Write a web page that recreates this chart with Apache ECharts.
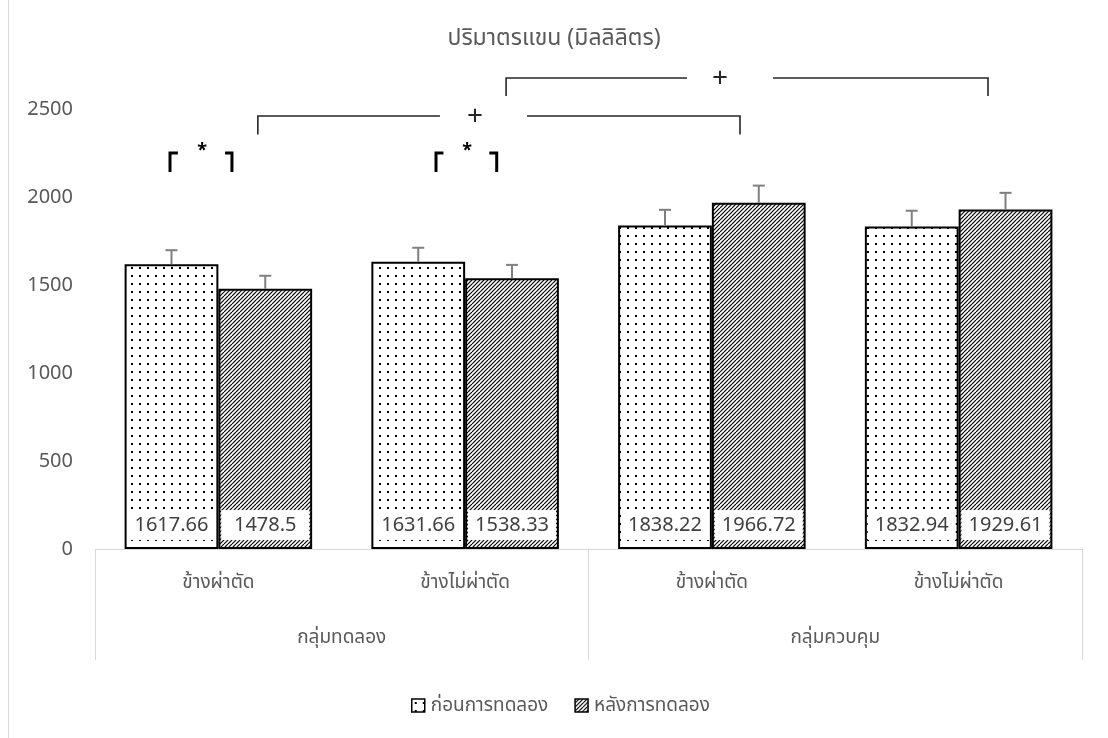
<!DOCTYPE html>
<html>
<head>
<meta charset="utf-8">
<script src="https://cdn.jsdelivr.net/npm/echarts@6/dist/echarts.min.js"></script>
<style>
  html, body { margin: 0; padding: 0; background: #fff; }
  #chart { width: 1108px; height: 738px; }
</style>
</head>
<body>
<div id="chart"></div>
<script>
// Arm volume (ml) before / after, by side, for the two study groups
const sideLabels = ['ข้างผ่าตัด', 'ข้างไม่ผ่าตัด', 'ข้างผ่าตัด', 'ข้างไม่ผ่าตัด'];
const groupLabels = ['กลุ่มทดลอง', 'กลุ่มควบคุม'];
const seriesNames = ['ก่อนการทดลอง', 'หลังการทดลอง'];
const beforeValues = [1617.66, 1631.66, 1838.22, 1832.94];
const afterValues = [1478.5, 1538.33, 1966.72, 1929.61];
const beforeErrors = [80, 80, 89, 89];
const afterErrors = [74, 76, 98, 94];
const yTicks = { min: 0, max: 2500, interval: 500 };

const FONT = '"Noto Sans", "Noto Sans Thai", Lato, sans-serif';
const TEXT = '#595959';

// fill patterns: dotted (before) and dense forward hatch (after)
function dotPattern() {
  const c = document.createElement('canvas');
  c.width = 8; c.height = 8;
  const ctx = c.getContext('2d');
  ctx.fillStyle = '#fff'; ctx.fillRect(0, 0, 8, 8);
  ctx.fillStyle = '#000'; ctx.fillRect(3, 3, 2, 2);
  return c;
}
function hatchPattern() {
  const c = document.createElement('canvas');
  c.width = 8; c.height = 8;
  const ctx = c.getContext('2d');
  ctx.fillStyle = '#fff'; ctx.fillRect(0, 0, 8, 8);
  ctx.strokeStyle = '#000'; ctx.lineWidth = 1.15;
  for (let k = -8; k <= 16; k += 4) {
    ctx.beginPath(); ctx.moveTo(k, 8); ctx.lineTo(k + 8, 0); ctx.stroke();
  }
  return c;
}
const dotFill = { image: dotPattern(), repeat: 'repeat' };
const hatchFill = { image: hatchPattern(), repeat: 'repeat' };

const BAR_FRAC = 0.38; // each bar's share of a category band
const offsets = [-BAR_FRAC / 2, BAR_FRAC / 2];

function errorSeries(values, errors, off) {
  return {
    type: 'custom',
    xAxisIndex: 0,
    z: 5,
    silent: true,
    data: values.map((v, i) => [i, v, errors[i]]),
    encode: { x: 0, y: 1 },
    renderItem(params, api) {
      const i = api.value(0), v = api.value(1), e = api.value(2);
      const base = api.coord([i, v]);
      const top = api.coord([i, v + e]);
      const bw = api.size([1, 0])[0];
      const x = base[0] + off * bw;
      const st = { stroke: '#7f7f7f', lineWidth: 2 };
      return {
        type: 'group',
        children: [
          { type: 'line', shape: { x1: x, y1: base[1], x2: x, y2: top[1] }, style: st },
          { type: 'line', shape: { x1: x - 6, y1: top[1], x2: x + 6, y2: top[1] }, style: st }
        ]
      };
    }
  };
}

const valueLabel = {
  show: true,
  position: 'insideBottom',
  distance: 9,
  backgroundColor: '#fff',
  padding: [5, 0],
  width: 88,
  align: 'center',
  fontSize: 20,
  fontFamily: FONT,
  color: '#404040'
};

const chart = echarts.init(document.getElementById('chart'));
chart.setOption({
  animation: false,
  backgroundColor: '#fff',
  title: {
    text: 'ปริมาตรแขน (มิลลิลิตร)',
    left: 'center',
    top: 22,
    textStyle: { fontSize: 23, fontWeight: 'normal', color: TEXT, fontFamily: FONT }
  },
  legend: {
    left: 406,
    top: 691,
    itemWidth: 13,
    itemHeight: 13,
    itemGap: 26,
    icon: 'rect',
    itemStyle: { borderColor: '#000', borderWidth: 1.5 },
    textStyle: { fontSize: 19, color: TEXT, fontFamily: FONT, padding: [0, 0, 0, 1] },
    data: seriesNames
  },
  grid: { left: 95, right: 26, top: 109, bottom: 189 },
  xAxis: [
    {
      type: 'category',
      data: sideLabels,
      axisLine: { lineStyle: { color: '#d9d9d9', width: 1 } },
      axisTick: { show: false },
      axisLabel: { margin: 24, fontSize: 19, color: TEXT, fontFamily: FONT }
    },
    {
      type: 'category',
      position: 'bottom',
      data: groupLabels,
      axisLine: { show: false },
      axisTick: { show: true, length: 111, lineStyle: { color: '#d9d9d9', width: 1 } },
      axisLabel: { margin: 79, fontSize: 19, color: TEXT, fontFamily: FONT }
    }
  ],
  yAxis: {
    type: 'value',
    min: yTicks.min,
    max: yTicks.max,
    interval: yTicks.interval,
    axisLine: { show: false },
    axisTick: { show: false },
    splitLine: { show: false },
    axisLabel: { margin: 22, fontSize: 20, color: TEXT, fontFamily: FONT, formatter: v => String(v) }
  },
  series: [
    {
      name: seriesNames[0],
      type: 'bar',
      xAxisIndex: 0,
      data: beforeValues,
      barCategoryGap: '24%',
      barGap: '0%',
      itemStyle: { color: dotFill, borderColor: '#000', borderWidth: 2 },
      label: valueLabel
    },
    {
      name: seriesNames[1],
      type: 'bar',
      xAxisIndex: 0,
      data: afterValues,
      barCategoryGap: '24%',
      barGap: '0%',
      itemStyle: { color: hatchFill, borderColor: '#000', borderWidth: 2 },
      label: valueLabel
    },
    errorSeries(beforeValues, beforeErrors, offsets[0]),
    errorSeries(afterValues, afterErrors, offsets[1])
  ]
});

// Significance brackets, placed from category bands and axis values
const plusBrackets = [
  // legs at [category, band fraction]; line level and foot in axis units; gap around the mark
  { left: [0, 0.16], right: [2, 0.114], level: 2460, foot: 2355, gapFrom: [1, -0.102], gapTo: [1, 0.251], mark: [1, 0.04] },
  { left: [1, 0.166], right: [3, 0.119], level: 2676, foot: 2574, gapFrom: [2, -0.101], gapTo: [2, 0.248], mark: [2, 0.033] }
];
const starBrackets = [
  { left: [0, -0.196], leftEnd: [0, -0.164], mark: [0, -0.066], rightStart: [0, 0.027], right: [0, 0.055], top: 2250, foot: 2142, markAt: 2262 },
  { left: [1, -0.118], leftEnd: [1, -0.088], mark: [1, 0.008], rightStart: [1, 0.098], right: [1, 0.128], top: 2250, foot: 2142, markAt: 2262 }
];

function bandX(pos) {
  const c = chart.convertToPixel({ xAxisIndex: 0 }, pos[0]);
  const c1 = chart.convertToPixel({ xAxisIndex: 0 }, 1);
  const c0 = chart.convertToPixel({ xAxisIndex: 0 }, 0);
  return c + pos[1] * (c1 - c0);
}
function yPx(v) { return chart.convertToPixel({ yAxisIndex: 0 }, v); }

const graphics = [];
// chart-area edge
graphics.push({ type: 'line', shape: { x1: 8.5, y1: 0, x2: 8.5, y2: 738 }, style: { stroke: '#d9d9d9', lineWidth: 1 } });

plusBrackets.forEach(b => {
  const xl = bandX(b.left), xr = bandX(b.right);
  const y = yPx(b.level), yf = yPx(b.foot);
  const st = { stroke: '#262626', lineWidth: 1.6, fill: null };
  graphics.push({ type: 'polyline', shape: { points: [[xl, yf], [xl, y], [bandX(b.gapFrom), y]] }, style: st });
  graphics.push({ type: 'polyline', shape: { points: [[bandX(b.gapTo), y], [xr, y], [xr, yf]] }, style: st });
  graphics.push({
    type: 'text', x: bandX(b.mark), y: y + 1,
    style: { text: '+', fontSize: 28, fill: '#262626', fontFamily: FONT, align: 'center', verticalAlign: 'middle' }
  });
});

starBrackets.forEach(b => {
  const yt = yPx(b.top), yf = yPx(b.foot);
  const st = { stroke: '#000', lineWidth: 3, fill: null };
  graphics.push({ type: 'polyline', shape: { points: [[bandX(b.left), yf], [bandX(b.left), yt], [bandX(b.leftEnd), yt]] }, style: st });
  graphics.push({ type: 'polyline', shape: { points: [[bandX(b.rightStart), yt], [bandX(b.right), yt], [bandX(b.right), yf]] }, style: st });
  graphics.push({
    type: 'text', x: bandX(b.mark), y: yPx(b.markAt),
    style: { text: '*', fontSize: 18, fontWeight: 'bold', fill: '#000', fontFamily: FONT, align: 'center', verticalAlign: 'middle' }
  });
});

chart.setOption({ graphic: graphics });
</script>
</body>
</html>
